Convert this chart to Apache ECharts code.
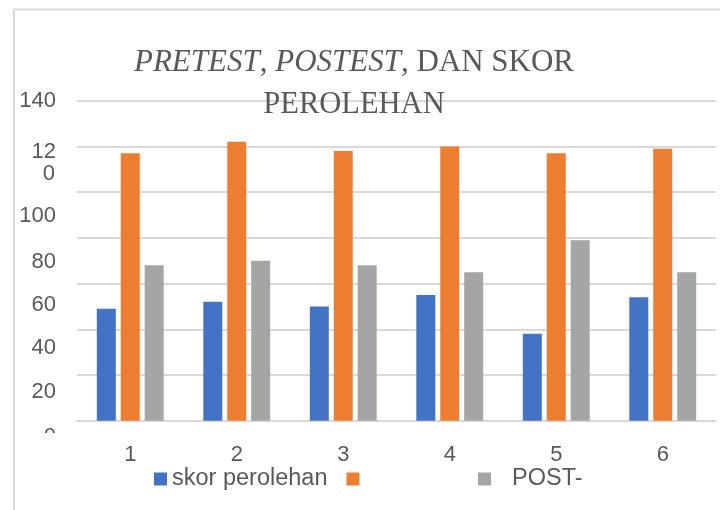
<!DOCTYPE html>
<html>
<head>
<meta charset="utf-8">
<script src="https://cdn.jsdelivr.net/npm/echarts@6/dist/echarts.min.js"></script>
<style>
  html, body { margin: 0; padding: 0; background: #fff; }
  #chart { width: 720px; height: 510px; }
</style>
</head>
<body>
<div id="chart"></div>
<script>
// categories and series
const categories = ['1', '2', '3', '4', '5', '6'];
const seriesNames = ['skor perolehan', 'PRETEST', 'POST-'];
const skorPerolehan = [49, 52, 50, 55, 38, 54];
const pretest = [117, 122, 118, 120, 117, 119];
const postest = [68, 70, 68, 65, 79, 65];
const yTicks = [0, 20, 40, 60, 80, 100, 120, 140];

const COLORS = ['#4472C4', '#ED7D31', '#A5A5A5'];
const TEXT = '#595959';
const GRID = '#d9d9d9';
const SANS = '"Liberation Sans", Arial, sans-serif';
const SERIF = '"Liberation Serif", "Times New Roman", serif';

// the y labels in the original sit below their gridlines by varying amounts
const labelShift = { 0: 32, 20: 34, 40: 38, 60: 43, 80: 49, 100: 48 };

const chart = echarts.init(document.getElementById('chart'));

const serif = extra => Object.assign({ fontFamily: SERIF, fontSize: 31, fontWeight: 'normal', color: TEXT, lineHeight: 42 }, extra);

// shared legend look; the original legend leaves a wide blank after the orange key
const legendBase = {
  top: 467,
  padding: 0,
  itemGap: 19,
  itemWidth: 13,
  itemHeight: 13,
  icon: 'rect',
  textStyle: {
    fontFamily: SANS,
    fontSize: 23.5,
    color: TEXT,
    rich: { p: { fontFamily: SANS, fontSize: 23.5, color: TEXT, padding: [0, 0, 0, 16] } },
  },
};

chart.setOption({
  animation: false,
  backgroundColor: '#fff',
  title: {
    text: '{i|PRETEST}{n|, }{i|POSTEST}{n|, DAN SKOR}\n{m|PEROLEHAN}',
    left: 354,
    top: 42,
    textAlign: 'center',
    padding: 0,
    textStyle: {
      fontWeight: 'normal',
      lineHeight: 42,
      rich: {
        i: serif({ fontStyle: 'italic' }),
        n: serif({}),
        m: serif({ fontSize: 30.5 }),
      },
    },
  },
  legend: [
    Object.assign({}, legendBase, {
      left: 154,
      data: seriesNames.slice(0, 2),
      formatter: name => (name === 'PRETEST' ? '' : name),
    }),
    Object.assign({}, legendBase, {
      left: 478,
      data: seriesNames.slice(2),
      formatter: name => '{p|' + name + '}',
    }),
  ],
  grid: { left: 77, right: 4, top: 100.7, bottom: 89.3 },
  xAxis: {
    type: 'category',
    data: categories,
    axisLine: { lineStyle: { color: GRID, width: 2 } },
    axisTick: { show: false },
    axisLabel: { fontFamily: SANS, fontSize: 22, color: TEXT, margin: 23, lineHeight: 22 },
  },
  yAxis: {
    type: 'value',
    min: 0,
    max: 140,
    interval: 20,
    axisLine: { show: false },
    axisTick: { show: false },
    splitLine: { lineStyle: { color: GRID, width: 2 } },
    axisLabel: {
      margin: 21,
      fontFamily: SANS,
      fontSize: 22,
      color: TEXT,
      formatter(v) {
        if (v === 140) return '{t|140}';
        if (v === 120) return '{a|12}\n{c|0}';
        return '{s' + v + '|' + v + '}';
      },
      rich: Object.assign({
        t: { fontFamily: SANS, fontSize: 22, color: TEXT },
        a: { fontFamily: SANS, fontSize: 22, color: TEXT, padding: [34, 0, 0, 0] },
        c: { fontFamily: SANS, fontSize: 22, color: TEXT, padding: [0, 1, 0, 0] },
      }, Object.fromEntries(yTicks.filter(v => v < 120).map(v => [
        's' + v,
        { fontFamily: SANS, fontSize: 22, color: TEXT, padding: [labelShift[v], 0, 0, 0] },
      ]))),
    },
  },
  series: [skorPerolehan, pretest, postest].map((data, i) => ({
    name: seriesNames[i],
    type: 'bar',
    data,
    barWidth: 19,
    barGap: '26%',
    itemStyle: { color: COLORS[i] },
  })),
  graphic: [
    {
      type: 'polyline',
      z: 100,
      shape: { points: [[14, 520], [14, 9.5], [730, 9.5]] },
      style: { stroke: GRID, lineWidth: 2, fill: null },
    },
    {
      // the bottom "0" label is cut off in the original
      type: 'rect',
      z: 100,
      shape: { x: 20, y: 433, width: 50, height: 12 },
      style: { fill: '#fff' },
    },
  ],
});
</script>
</body>
</html>
